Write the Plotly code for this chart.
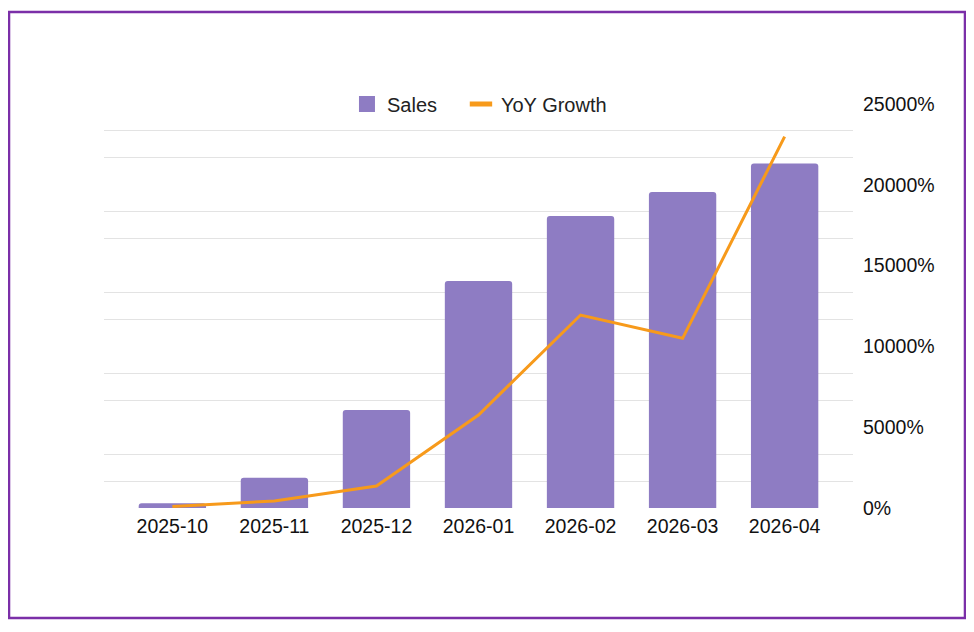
import plotly.graph_objects as go

# values
months = ["2025-10", "2025-11", "2025-12", "2026-01", "2026-02", "2026-03", "2026-04"]
sales = [23, 150, 485, 1124, 1446, 1564, 1706]
yoy_growth = [100, 430, 1360, 5750, 11940, 10500, 22980]

bar_color = "#8E7CC3"
line_color = "#F79A1B"
text_color = "#222222"

fig = go.Figure()

fig.add_trace(go.Bar(
    x=months, y=sales, name="Sales",
    marker=dict(color=bar_color, line=dict(width=0)),
    width=0.66, showlegend=False,
))

fig.add_trace(go.Scatter(
    x=months, y=yoy_growth, name="YoY Growth", yaxis="y2",
    mode="lines", line=dict(color=line_color, width=3),
    showlegend=False,
))

# legend entries drawn by stand-in traces so the keys look like the reference
fig.add_trace(go.Scatter(
    x=[None], y=[None], name="Sales", mode="markers", legend="legend",
    marker=dict(symbol="square", size=16, color=bar_color),
))
fig.add_trace(go.Scatter(
    x=[None], y=[None], name="YoY Growth", yaxis="y2", mode="markers",
    legend="legend2",
    marker=dict(symbol="line-ew", size=16, color=line_color,
                line=dict(color=line_color, width=5)),
))

legend_style = dict(
    orientation="h", xanchor="left", y=1.0, yanchor="middle",
    font=dict(size=20, color=text_color), itemwidth=30,
    bgcolor="rgba(0,0,0,0)",
)

# the page body adds ~8px, so the figure is a bit smaller than the window
fig.update_layout(
    width=958, height=616,
    margin=dict(l=96, r=113, t=96, b=116),
    paper_bgcolor="white", plot_bgcolor="white",
    font=dict(family="Arial, Liberation Sans, sans-serif", size=19, color=text_color),
    barcornerradius=3,
    showlegend=True,
    legend=dict(x=0.3244, **legend_style),
    legend2=dict(x=0.4766, **legend_style),
    xaxis=dict(
        type="category", range=[-0.67, 6.67], automargin=False,
        showgrid=False, zeroline=False, showline=False,
        ticks="", tickangle=0, tickfont=dict(size=19.5, color="#111111"),
        ticklabelstandoff=4,
    ),
    yaxis=dict(
        range=[0, 2000], automargin=False, showgrid=False, zeroline=False,
        showticklabels=False, ticks="",
    ),
    yaxis2=dict(
        overlaying="y", side="right", range=[0, 25000], automargin=False,
        tickvals=[0, 5000, 10000, 15000, 20000, 25000],
        ticktext=["0%", "5000%", "10000%", "15000%", "20000%", "25000%"],
        showgrid=False, zeroline=False, ticks="",
        tickfont=dict(size=19.5, color="#111111"), ticklabelstandoff=9,
        minor=dict(
            tickvals=[5000 * k / 3 for k in range(1, 15) if k % 3],
            showgrid=True, gridcolor="#E3E3E3", gridwidth=1.3, ticks="",
        ),
    ),
)

# purple frame around the whole chart
fig.add_shape(
    type="rect", xref="paper", yref="paper",
    x0=-0.1268, x1=1.1495, y0=-0.2723, y1=1.2277,
    line=dict(color="#7B2FA8", width=2.5), layer="below",
)

fig.write_html("out.html")
